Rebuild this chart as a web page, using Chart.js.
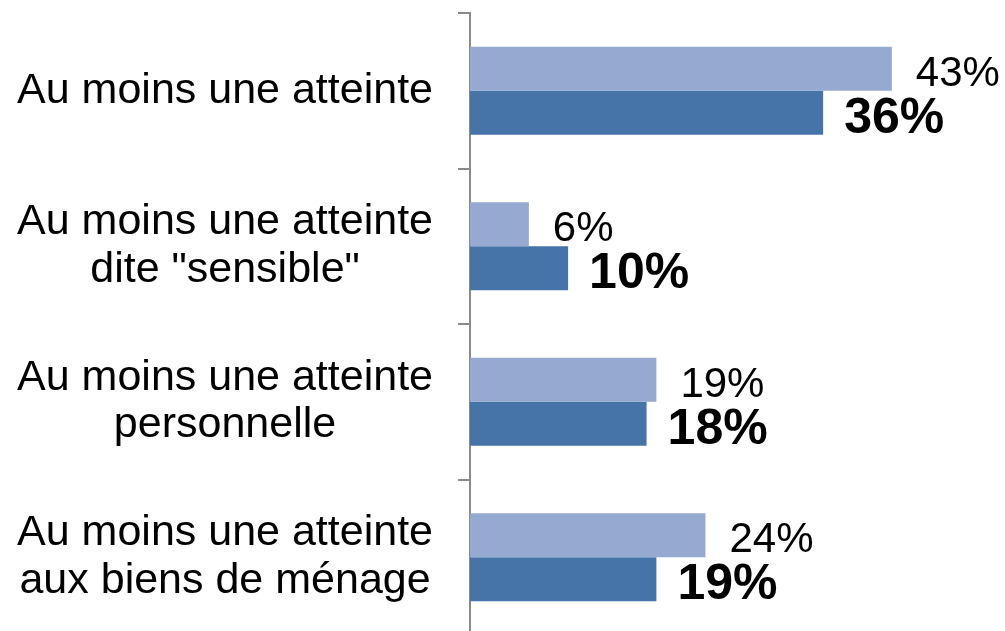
<!DOCTYPE html>
<html>
<head>
<meta charset="utf-8">
<script src="https://cdn.jsdelivr.net/npm/chart.js@4"></script>
<style>
  html, body { margin: 0; padding: 0; background: #fff; overflow: hidden; }
</style>
</head>
<body>
<canvas id="chart_atteintes" width="1005" height="640"></canvas>
<script>
const categories = [
    'Au moins une atteinte',
    ['Au moins une atteinte', 'dite "sensible"'],
    ['Au moins une atteinte', 'personnelle'],
    ['Au moins une atteinte', 'aux biens de ménage']
];
const seriesLight = [43, 6, 19, 24];
const seriesDark = [36, 10, 18, 19];

// percentages printed to the right of each bar, dark series in bold
const valueLabels = {
    id: 'valueLabels',
    afterDatasetsDraw(chart) {
        const ctx = chart.ctx;
        chart.data.datasets.forEach((ds, i) => {
            const meta = chart.getDatasetMeta(i);
            const bold = i === 1;
            const size = bold ? 50 : 42;
            ctx.save();
            ctx.font = (bold ? 'bold ' : '') + size + 'px "Liberation Sans", Arial, sans-serif';
            ctx.fillStyle = '#000';
            ctx.textAlign = 'left';
            ctx.textBaseline = 'alphabetic';
            meta.data.forEach((bar, j) => {
                ctx.fillText(ds.data[j] + '%', bar.x + (bold ? 21 : 24), bar.y + size * 0.358 + 2);
            });
            ctx.restore();
        });
    }
};

new Chart(document.getElementById('chart_atteintes'), {
    type: 'bar',
    data: {
        labels: categories,
        datasets: [
            { label: 'Série 1', data: seriesLight, backgroundColor: '#95A9D1', categoryPercentage: 0.566, barPercentage: 1 },
            { label: 'Série 2', data: seriesDark, backgroundColor: '#4674A9', categoryPercentage: 0.566, barPercentage: 1 }
        ]
    },
    options: {
        indexAxis: 'y',
        responsive: false,
        animation: false,
        layout: { padding: { top: 13, bottom: 5, left: 0, right: 44.5 } },
        scales: {
            x: {
                display: false,
                min: 0,
                max: 50
            },
            y: {
                afterFit: function(scale) {
                    scale.width = 470;
                    // labels sit at category centres, no need for edge room
                    scale.paddingTop = 0;
                    scale.paddingBottom = 0;
                },
                border: { display: true, color: '#8a8a8a', width: 2 },
                grid: {
                    offset: true,
                    drawOnChartArea: false,
                    drawTicks: true,
                    tickLength: 12,
                    color: '#8a8a8a',
                    lineWidth: 2
                },
                ticks: {
                    autoSkip: false,
                    crossAlign: 'center',
                    padding: 25,
                    color: '#000',
                    font: { family: '"Liberation Sans", Arial, sans-serif', size: 43, lineHeight: 1.1 }
                }
            }
        },
        plugins: {
            legend: { display: false },
            tooltip: { enabled: false }
        }
    },
    plugins: [valueLabels]
});
</script>
</body>
</html>
